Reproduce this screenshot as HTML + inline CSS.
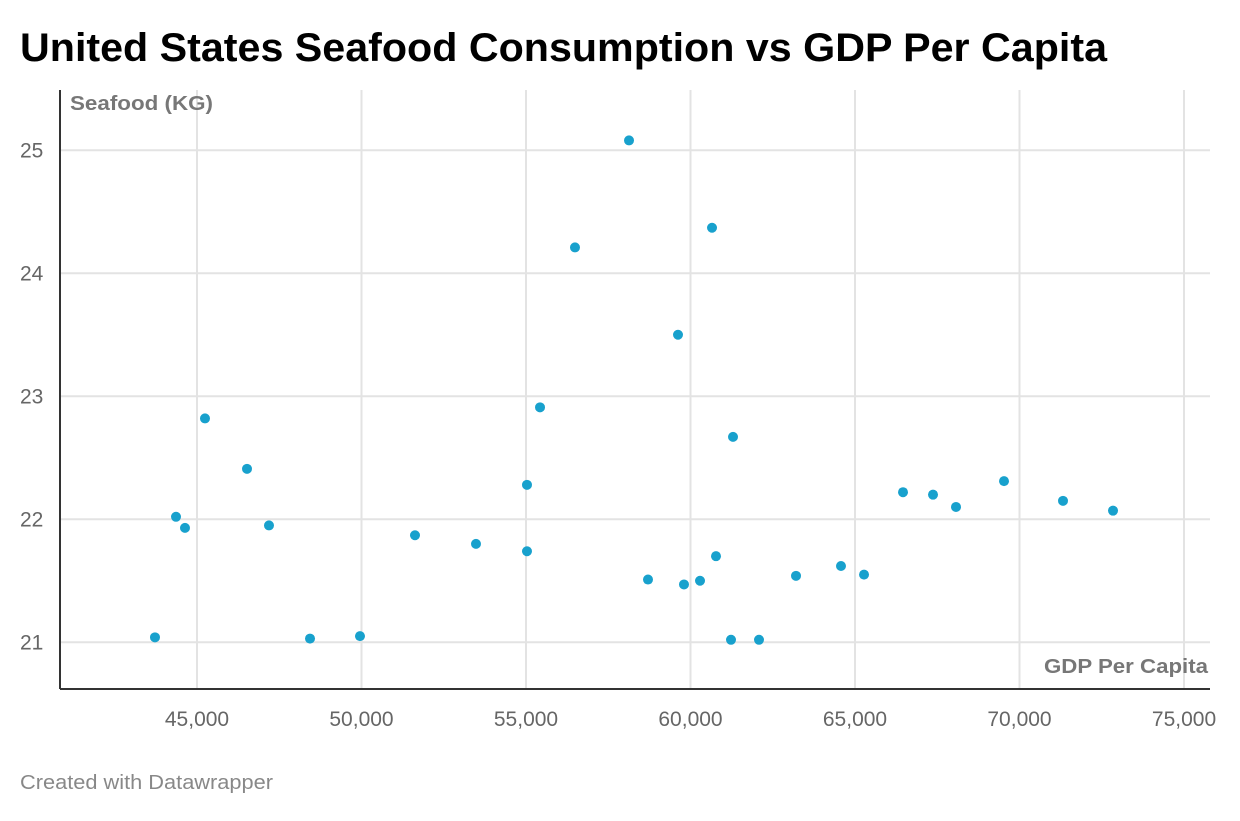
<!DOCTYPE html>
<html><head><meta charset="utf-8"><style>
body{margin:0;background:#fff;font-family:"Liberation Sans",Arial,sans-serif}
</style></head><body>
<svg id="chart" width="1240" height="816" xmlns="http://www.w3.org/2000/svg">
<text x="20" y="61" font-size="40" font-weight="bold" fill="#000" textLength="1087" lengthAdjust="spacingAndGlyphs">United States Seafood Consumption vs GDP Per Capita</text>
<g id="grid"></g>
<g id="axes"></g>
<g id="points"></g>
<text x="70" y="110" font-size="20" font-weight="bold" fill="#777" textLength="143" lengthAdjust="spacingAndGlyphs">Seafood (KG)</text>
<text x="1044" y="673" font-size="20" font-weight="bold" fill="#777" textLength="164" lengthAdjust="spacingAndGlyphs">GDP Per Capita</text>
<text x="20" y="789" font-size="20" fill="#888" textLength="253" lengthAdjust="spacingAndGlyphs">Created with Datawrapper</text>
</svg>
<script>
const gdp=[43723,44362,44635,45243,46520,47188,48435,49954,51626,53480,55030,55030,55426,56489,58131,58708,59620,59802,60289,60654,60775,61231,61292,62082,63207,64574,65274,66459,67371,68070,69529,71322,72842];
const seafood=[21.04,22.02,21.93,22.82,22.41,21.95,21.03,21.05,21.87,21.80,22.28,21.74,22.91,24.21,25.08,21.51,23.50,21.47,21.50,24.37,21.70,21.02,22.67,21.02,21.54,21.62,21.55,22.22,22.20,22.10,22.31,22.15,22.07];
const xTicks=[45000,50000,55000,60000,65000,70000,75000];
const yTicks=[21,22,23,24,25];
const NS="http://www.w3.org/2000/svg";
const L=60,R=1210,T=90,B=689;
const x0=40836,x1=75790,y0=20.62,y1=25.49;
function sx(v){return L+(v-x0)/(x1-x0)*(R-L);}
function sy(v){return B-(v-y0)/(y1-y0)*(B-T);}
function mk(tag,attrs,parent){const e=document.createElementNS(NS,tag);for(const k in attrs)e.setAttribute(k,attrs[k]);parent.appendChild(e);return e;}
const grid=document.getElementById('grid'),axes=document.getElementById('axes'),pts=document.getElementById('points');
yTicks.forEach(t=>{
  const l=mk('line',{x1:L,x2:R,y1:sy(t),y2:sy(t),stroke:'#e3e3e3','stroke-width':2},grid);
  
  
  const tx=mk('text',{x:20,y:sy(t)+7,'font-size':21,fill:'#666'},axes);
  tx.textContent=t;
  
  
});
xTicks.forEach(t=>{
  const l=mk('line',{x1:sx(t),x2:sx(t),y1:T,y2:B,stroke:'#e3e3e3','stroke-width':2},grid);
  
  
  const tx=mk('text',{x:sx(t),y:726,'font-size':21,fill:'#666','text-anchor':'middle'},axes);
  tx.textContent=t.toLocaleString('en-US');
  
  
});
const ya=mk('line',{x1:L,x2:L,y1:T,y2:B,stroke:'#333','stroke-width':2},axes);


const xa=mk('line',{x1:L,x2:R,y1:B,y2:B,stroke:'#333','stroke-width':2},axes);


gdp.forEach((g,i)=>{
  const c=mk('circle',{cx:sx(g),cy:sy(seafood[i]),r:5,fill:'#18a1cd'},pts);
  
  
});
</script>
</body></html>
